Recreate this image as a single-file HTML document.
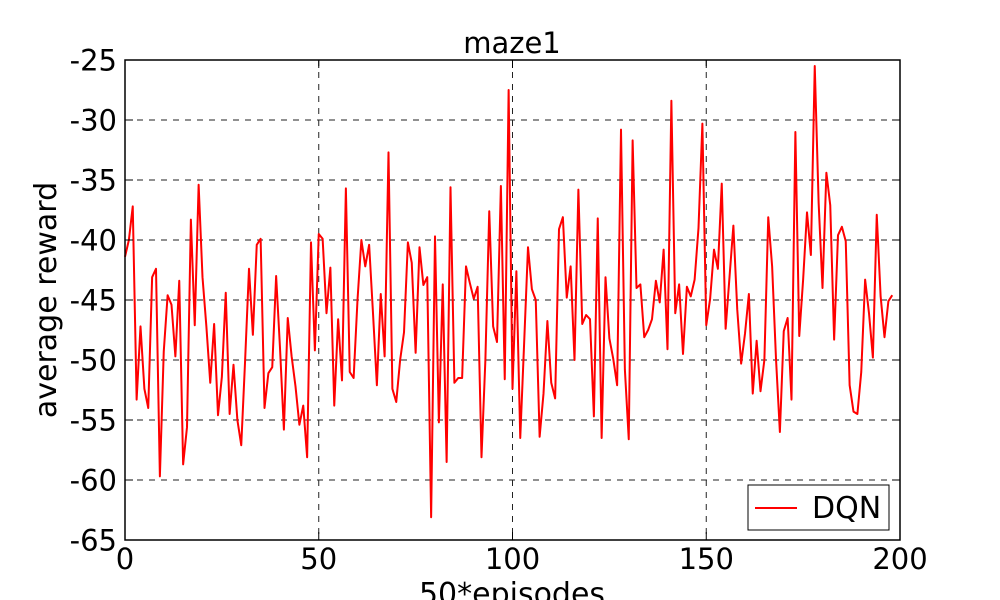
<!DOCTYPE html>
<html><head><meta charset="utf-8"><style>
html,body{margin:0;padding:0;background:#fff;}
svg{display:block;font-family:"DejaVu Sans","Liberation Sans",sans-serif;}
</style></head><body>
<svg id="chart" width="1000" height="600" viewBox="0 0 1000 600" xmlns="http://www.w3.org/2000/svg">
<rect x="0" y="0" width="1000" height="600" fill="#fff"/>
<g id="grid"></g>
<g id="series"></g>
<rect x="125" y="60" width="775" height="480" fill="none" stroke="#000" stroke-width="1.5"/>
<g id="ticks"></g>
<text x="512" y="53" font-size="29" text-anchor="middle">maze1</text>
<text transform="translate(56,300) rotate(-90)" font-size="30" text-anchor="middle">average reward</text>
<text x="512" y="604" font-size="30" text-anchor="middle">50*episodes</text>
<g>
<rect x="748" y="485" width="141" height="45" fill="#fff" stroke="#000" stroke-width="1"/>
<line x1="755" y1="508" x2="797" y2="508" stroke="#f00" stroke-width="2"/>
<text x="812" y="518" font-size="30">DQN</text>
</g>
</svg>
<script>
const xTicks = [0, 50, 100, 150, 200];
const yTicks = [-25, -30, -35, -40, -45, -50, -55, -60, -65];
const rewards = [
-41.4,-40,-37.2,-53.3,-47.2,-52.4,-54.0,-43.1,-42.4,-59.7,
-49.3,-44.6,-45.4,-49.7,-43.4,-58.7,-55.6,-38.3,-47.1,-35.4,
-43.1,-47.2,-51.9,-47.0,-54.6,-51.4,-44.4,-54.5,-50.4,-55,
-57.1,-50,-42.4,-47.9,-40.4,-39.9,-54.0,-51.1,-50.6,-43,
-49,-55.8,-46.5,-49.7,-52.2,-55.4,-53.8,-58.1,-40.2,-49.2,
-39.5,-39.9,-46.1,-42.3,-53.8,-46.6,-51.7,-35.7,-51,-51.5,
-45,-40,-42.2,-40.4,-46.1,-52.1,-44.5,-49.7,-32.7,-52.4,
-53.5,-50,-47.7,-40.2,-41.9,-49.4,-40.6,-43.75,-43.1,-63.1,
-39.7,-55.2,-43.7,-58.5,-35.6,-51.9,-51.5,-51.5,-42.2,-43.6,
-44.9,-43.9,-58.1,-50,-37.6,-47.2,-48.5,-35.5,-51.6,-27.5,
-52.4,-42.6,-56.5,-48.6,-40.6,-44.1,-45,-56.4,-52.8,-46.75,
-51.9,-53.2,-39.1,-38.1,-44.8,-42.2,-50,-35.8,-47,-46.25,
-46.6,-54.7,-38.2,-56.5,-43.1,-48.2,-49.9,-52.1,-30.8,-50.8,
-56.6,-31.7,-44,-43.7,-48.1,-47.5,-46.6,-43.4,-45.2,-40.8,
-49.1,-28.4,-46.1,-43.7,-49.5,-43.9,-44.7,-43.3,-39.0,-30.3,
-47.1,-44.9,-40.8,-42.4,-35.3,-47.4,-43.1,-38.8,-45.8,-50.3,
-47.8,-44.5,-52.8,-48.4,-52.6,-50,-38.1,-42.2,-49.9,-56,
-47.6,-46.5,-53.3,-31,-48,-43.3,-37.7,-41.25,-25.5,-36.9,
-44,-34.4,-37.1,-48.3,-39.6,-38.9,-40.1,-52.1,-54.3,-54.5,
-51,-43.3,-46.1,-49.8,-37.9,-44.7,-48.1,-45.1,-44.6
];
const NS = "http://www.w3.org/2000/svg";
const L = 125, R = 900, T = 60, B = 540;
const xS = v => L + (v - 0) / 200 * (R - L);
const yS = v => T + (-25 - v) / 40 * (B - T);
const grid = document.getElementById('grid');
const ticks = document.getElementById('ticks');
function mk(tag, attrs, parent) {
  const e = document.createElementNS(NS, tag);
  for (const k in attrs) e.setAttribute(k, attrs[k]);
  parent.appendChild(e);
  return e;
}
yTicks.forEach(v => {
  const y = yS(v);
  const g = mk('line', {x1: L, x2: R, y1: y, y2: y, stroke: '#222', 'stroke-width': 1, 'stroke-dasharray': '6,6'}, grid);
  
  
  const t1 = mk('line', {x1: L, x2: L + 8, y1: y, y2: y, stroke: '#000', 'stroke-width': 1}, ticks);
  
  
  const t2 = mk('line', {x1: R - 8, x2: R, y1: y, y2: y, stroke: '#000', 'stroke-width': 1}, ticks);
  
  
  const lb = mk('text', {x: 117, y: y + 10.5, 'font-size': 29, 'text-anchor': 'end'}, ticks);
  lb.textContent = v;
  
  
});
xTicks.forEach(v => {
  const x = xS(v);
  const g = mk('line', {x1: x, x2: x, y1: T, y2: B, stroke: '#222', 'stroke-width': 1, 'stroke-dasharray': '6,6'}, grid);
  
  
  const t1 = mk('line', {x1: x, x2: x, y1: B - 8, y2: B, stroke: '#000', 'stroke-width': 1}, ticks);
  
  
  const t2 = mk('line', {x1: x, x2: x, y1: T, y2: T + 8, stroke: '#000', 'stroke-width': 1}, ticks);
  
  
  const lb = mk('text', {x: x, y: 569, 'font-size': 29, 'text-anchor': 'middle'}, ticks);
  lb.textContent = v;
  
  
});
const pts = rewards.map((v, i) => xS(i).toFixed(2) + ',' + yS(v).toFixed(2)).join(' ');
const line = mk('polyline', {points: pts, fill: 'none', stroke: '#f00', 'stroke-width': 2, 'stroke-linejoin': 'round'}, document.getElementById('series'));


</script>
</body></html>
